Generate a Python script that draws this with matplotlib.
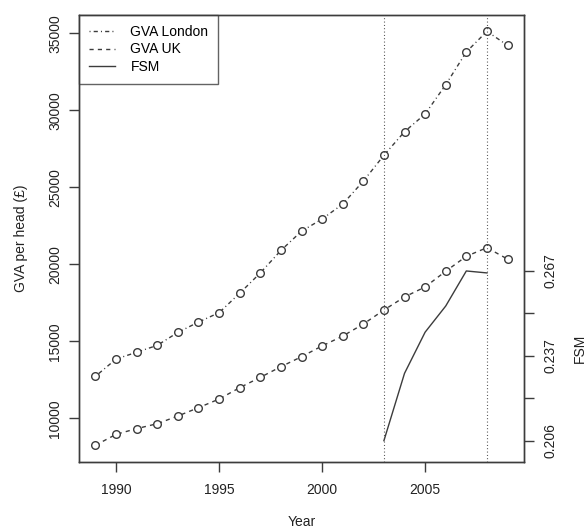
import matplotlib
matplotlib.use("Agg")
import matplotlib.pyplot as plt
import numpy as np

years = list(range(1989, 2010))
gva_london = [12730, 13850, 14290, 14740, 15580, 16250, 16860, 18120, 19440, 20900,
              22150, 22940, 23910, 25400, 27080, 28610, 29760, 31660, 33790, 35130, 34220]
gva_uk = [8250, 8960, 9330, 9650, 10150, 10690, 11250, 11990, 12660, 13350,
          14000, 14700, 15340, 16120, 17030, 17880, 18530, 19550, 20520, 21080, 20340]
fsm_years = [2003, 2004, 2005, 2006, 2007, 2008]
fsm = [0.206, 0.2302, 0.245, 0.2544, 0.267, 0.2663]
fsm_ticks = [0.206, 0.22125, 0.2365, 0.25175, 0.267]
fsm_ticklabels = ["0.206", "", "0.237", "", "0.267"]
vlines_years = [2003, 2008]
x_ticks = [1990, 1995, 2000, 2005]
y_ticks = [10000, 15000, 20000, 25000, 30000, 35000]

plt.rcParams['font.family'] = ['Liberation Sans', 'DejaVu Sans']
C = '#3c3c3c'
FS = 10

fig = plt.figure(figsize=(5.88, 5.29), dpi=100)
ax = fig.add_axes([79/588, 1-461.7/529, (524-79)/588, (461.7-15)/529])

ax.plot(years, gva_london, color=C, lw=1, dashes=(0.75, 2.25, 3, 2.25),
        marker='o', ms=5.5, mfc='white', mec=C, mew=1, label='GVA London')
ax.plot(years, gva_uk, color=C, lw=1, dashes=(3, 3),
        marker='o', ms=5.5, mfc='white', mec=C, mew=1, label='GVA UK')
ax.plot([], [], color=C, lw=1, label='FSM')

ax.set_xlim(1988.2, 2009.8)
ax.set_ylim(7182, 36190)
ax.set_xticks(x_ticks)
ax.set_yticks(y_ticks)
ax.tick_params(axis='both', colors=C, labelcolor='#222222', length=7, width=1, labelsize=FS)
ax.tick_params(axis='x', pad=8)
ax.tick_params(axis='y', pad=5)
for lbl in ax.get_yticklabels():
    lbl.set_rotation(90)
    lbl.set_va('center')
for s in ax.spines.values():
    s.set_color(C)
    s.set_linewidth(1)
ax.set_xlabel('Year', fontsize=FS, color='#222222', labelpad=13)
ax.set_ylabel('GVA per head (£)', fontsize=FS, color='#222222', labelpad=15)

for vy in vlines_years:
    ax.axvline(vy, color=C, lw=0.8, dashes=(0.8, 2.2))

ax2 = ax.twinx()
ax2.plot(fsm_years, fsm, color=C, lw=1)
ax2.set_ylim(0.19845, 0.359)
ax2.set_yticks(fsm_ticks)
ax2.set_yticklabels(fsm_ticklabels, rotation=90, va='center')
ax2.tick_params(axis='y', colors=C, labelcolor='#222222', length=7, width=1, labelsize=FS, pad=7)
for s in ax2.spines.values():
    s.set_color(C)
    s.set_linewidth(1)
ax2.text(1.126, 0.2545, 'FSM', transform=ax2.transAxes, rotation=90,
         ha='center', va='center', fontsize=FS, color='#222222')

leg = ax.legend(loc='upper left', bbox_to_anchor=(0, 1), borderaxespad=0,
                frameon=True, fancybox=False, fontsize=FS, handlelength=1.9,
                handletextpad=1.1, labelspacing=0.27, borderpad=0.7)
leg.get_frame().set_edgecolor(C)
leg.get_frame().set_linewidth(1)
for h in leg.legend_handles:
    h.set_marker('')

fig.savefig('out.png', dpi=100)
